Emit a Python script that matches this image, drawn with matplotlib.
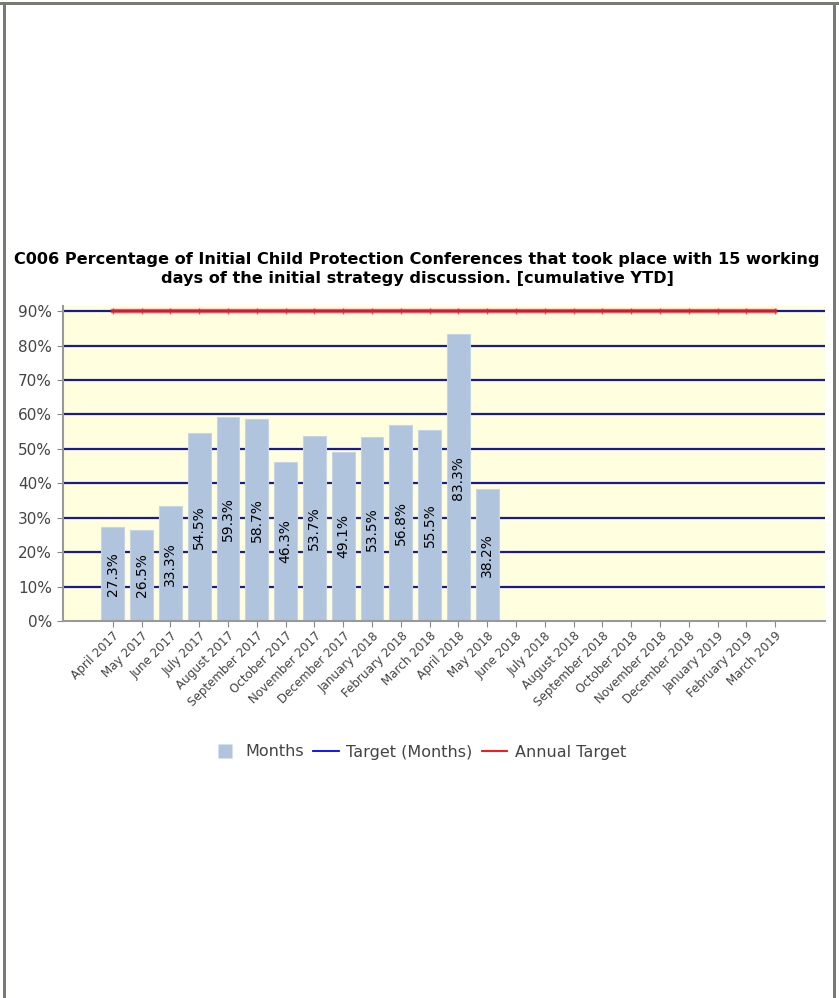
import matplotlib
matplotlib.use("Agg")
import matplotlib.pyplot as plt
from matplotlib.lines import Line2D
from matplotlib.patches import Rectangle
import numpy as np

categories = ["April 2017", "May 2017", "June 2017", "July 2017", "August 2017",
              "September 2017", "October 2017", "November 2017", "December 2017",
              "January 2018", "February 2018", "March 2018", "April 2018", "May 2018",
              "June 2018", "July 2018", "August 2018", "September 2018", "October 2018",
              "November 2018", "December 2018", "January 2019", "February 2019", "March 2019"]
months_values = [27.3, 26.5, 33.3, 54.5, 59.3, 58.7, 46.3, 53.7, 49.1, 53.5, 56.8, 55.5, 83.3, 38.2]
target_months = [90] * 14
annual_target = [90] * 24
yticks = [0, 10, 20, 30, 40, 50, 60, 70, 80, 90]
title = ("C006 Percentage of Initial Child Protection Conferences that took place with 15 working\n"
         "days of the initial strategy discussion. [cumulative YTD]")

fig = plt.figure(figsize=(8.39, 9.98), dpi=100)
fig.patch.set_facecolor("white")

# outer frame
border_col = "#7a7a72"
fig.add_artist(Rectangle((0, 1 - 5 / 998), 1, 3 / 998, transform=fig.transFigure,
                         facecolor=border_col, edgecolor="none"))
fig.add_artist(Rectangle((3 / 839, 0), 3 / 839, 1 - 5 / 998, transform=fig.transFigure,
                         facecolor=border_col, edgecolor="none"))
fig.add_artist(Rectangle((833 / 839, 0), 3 / 839, 1 - 5 / 998, transform=fig.transFigure,
                         facecolor=border_col, edgecolor="none"))

left, right = 63 / 839, 825 / 839
bottom, top = 1 - 621 / 998, 1 - 306 / 998
ax = fig.add_axes([left, bottom, right - left, top - bottom])
ax.set_facecolor("#ffffe0")

x_all = np.arange(len(categories))
x_m = np.arange(len(months_values))

for yv in yticks[1:]:
    ax.axhline(yv, color="#1a1a8c", lw=1.6, zorder=1)

ax.bar(x_m, months_values, width=0.79, color="#b0c4de",
       edgecolor="#c6d4e6", linewidth=0.8, zorder=2)
for xi, v in zip(x_m, months_values):
    ax.text(xi, v / 2, f"{v:.1f}%", rotation=90, ha="center", va="center",
            fontsize=10, color="black", zorder=5)

ax.plot(np.arange(len(target_months)), target_months, color="#2020b0", lw=1.5, zorder=3)
ax.plot(x_all, annual_target, color="#ff2020", lw=3.2, alpha=0.72, zorder=4,
        marker="|", markersize=5, markeredgewidth=1.0, markeredgecolor="#d02040")

ax.set_xlim(-1.73, len(categories) - 1 + 1.73)
ax.set_ylim(0, 91.5)
ax.set_yticks(yticks)
ax.set_yticklabels([f"{v}%" for v in yticks], fontsize=11, color="#444444")
ax.set_xticks(x_all)
ax.set_xticklabels(categories, rotation=45, ha="right", rotation_mode="anchor",
                   fontsize=8.6, color="#444444")
ax.tick_params(axis="x", length=4, color="#888888", pad=2)
ax.tick_params(axis="y", length=4, color="#888888", pad=4)
for s in ["top", "right"]:
    ax.spines[s].set_visible(False)
for s in ["left", "bottom"]:
    ax.spines[s].set_color("#999999")
    ax.spines[s].set_linewidth(1.5)

fig.text(0.497, 1 - 269 / 998, title, ha="center", va="center", fontsize=11.6,
         fontweight="bold", color="black", linespacing=1.4)

handles = [Line2D([0], [0], marker="s", markersize=10, linestyle="none",
                  markerfacecolor="#b0c4de", markeredgecolor="none"),
           Line2D([0], [0], color="#0000ff", lw=1.3),
           Line2D([0], [0], color="#ff0000", lw=1.3)]
fig.legend(handles, ["Months", "Target (Months)", "Annual Target"],
           loc="center", bbox_to_anchor=(419 / 839, 1 - 752 / 998), ncol=3,
           frameon=False, fontsize=11.5, handlelength=1.6,
           columnspacing=0.6, handletextpad=0.45, labelcolor="#444444")

fig.savefig("out.png", dpi=100, facecolor="white")
